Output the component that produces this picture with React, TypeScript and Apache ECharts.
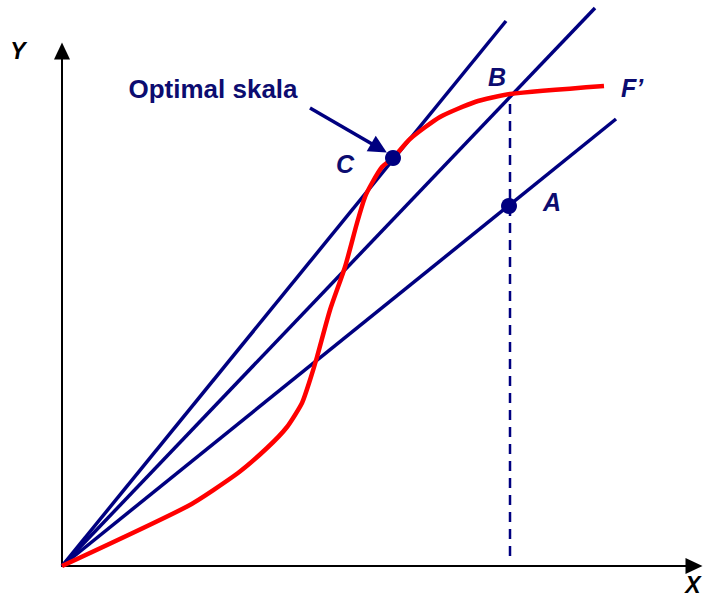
import React, { useEffect, useRef } from "react";
import * as echarts from "echarts";

// value coordinates: x = horizontal units from origin, y = vertical units from origin
const rayOptimal: number[][] = [[0, 0], [444, 545]];
const rayB: number[][] = [[0, 0], [533, 558]];
const rayA: number[][] = [[0, 0], [554, 447]];
const curveF: number[][] = [
  [0, 0], [126, 60], [176, 93], [205, 118], [225, 139], [240, 163], [248, 186],
  [255, 209], [268, 256], [283, 299], [295, 343], [303, 369], [310, 383],
  [320, 399], [331, 408], [348, 427], [378, 449], [413, 464], [448, 472], [542, 480],
];
const pointC: number[] = [331, 408];
const pointA: number[] = [447, 360];
const dropB: number[][] = [[448, 10], [448, 472]];
const pointerArrow: number[][] = [[248, 458], [317, 418]];

const NAVY = "#000080";
const TEXT_NAVY = "#0c0c70";

export default function App() {
  const ref = useRef<HTMLDivElement>(null);
  useEffect(() => {
    if (!ref.current) return;
    const chart = echarts.init(ref.current, undefined, { renderer: "svg" });
    const labelFont = "italic bold 25px 'Liberation Sans', Arial, sans-serif";
    const axisFont = "italic bold 23px 'Liberation Sans', Arial, sans-serif";
    chart.setOption({
      animation: false,
      backgroundColor: "#ffffff",
      grid: { left: 62, right: 10, top: 51, bottom: 31, containLabel: false },
      xAxis: {
        type: "value",
        min: 0,
        max: 632,
        axisLine: {
          show: true,
          onZero: false,
          symbol: ["none", "triangle"],
          symbolSize: [16, 17],
          lineStyle: { color: "#000", width: 2 },
        },
        axisTick: { show: false },
        axisLabel: { show: false },
        splitLine: { show: false },
      },
      yAxis: {
        type: "value",
        min: 0,
        max: 515,
        axisLine: {
          show: true,
          onZero: false,
          symbol: ["none", "triangle"],
          symbolSize: [16, 17],
          lineStyle: { color: "#000", width: 2 },
        },
        axisTick: { show: false },
        axisLabel: { show: false },
        splitLine: { show: false },
      },
      series: [
        {
          type: "line",
          data: rayOptimal,
          clip: false,
          showSymbol: false,
          lineStyle: { color: NAVY, width: 3.5 },
          z: 2,
        },
        {
          type: "line",
          data: rayB,
          clip: false,
          showSymbol: false,
          lineStyle: { color: NAVY, width: 3.5 },
          z: 2,
        },
        {
          type: "line",
          data: rayA,
          clip: false,
          showSymbol: false,
          lineStyle: { color: NAVY, width: 3.5 },
          z: 2,
        },
        {
          type: "line",
          data: dropB,
          clip: false,
          showSymbol: false,
          lineStyle: { color: NAVY, width: 2.5, type: [10, 7] },
          z: 2,
        },
        {
          type: "line",
          data: curveF,
          clip: false,
          showSymbol: false,
          smooth: 0.2,
          lineStyle: { color: "#ff0000", width: 4.5 },
          z: 3,
        },
        {
          type: "lines",
          coordinateSystem: "cartesian2d",
          symbol: ["none", "triangle"],
          symbolSize: 18,
          lineStyle: { color: NAVY, width: 3.5, opacity: 1 },
          data: [{ coords: pointerArrow }],
          z: 4,
        },
        {
          type: "scatter",
          data: [pointC, pointA],
          symbolSize: 16,
          clip: false,
          itemStyle: { color: NAVY, opacity: 1 },
          z: 5,
        },
      ],
      graphic: [
        {
          type: "text",
          x: 213,
          y: 89,
          style: {
            text: "Optimal skala",
            font: "bold 26px 'Liberation Sans', Arial, sans-serif",
            fill: TEXT_NAVY,
            align: "center",
            verticalAlign: "middle",
          },
        },
        { type: "text", x: 345, y: 164, style: { text: "C", font: labelFont, fill: TEXT_NAVY, align: "center", verticalAlign: "middle" } },
        { type: "text", x: 497, y: 77, style: { text: "B", font: labelFont, fill: TEXT_NAVY, align: "center", verticalAlign: "middle" } },
        { type: "text", x: 632, y: 88, style: { text: "F\u2019", font: labelFont, fill: TEXT_NAVY, align: "center", verticalAlign: "middle" } },
        { type: "text", x: 552, y: 202, style: { text: "A", font: labelFont, fill: TEXT_NAVY, align: "center", verticalAlign: "middle" } },
        { type: "text", x: 18, y: 51, style: { text: "Y", font: axisFont, fill: "#000", align: "center", verticalAlign: "middle" } },
        { type: "text", x: 693, y: 585, style: { text: "X", font: axisFont, fill: "#000", align: "center", verticalAlign: "middle" } },
      ],
    });
    return () => chart.dispose();
  }, []);
  return (
    <div
      ref={ref}
      style={{ position: "fixed", left: 0, top: 0, width: 704, height: 597, background: "#fff" }}
    />
  );
}
